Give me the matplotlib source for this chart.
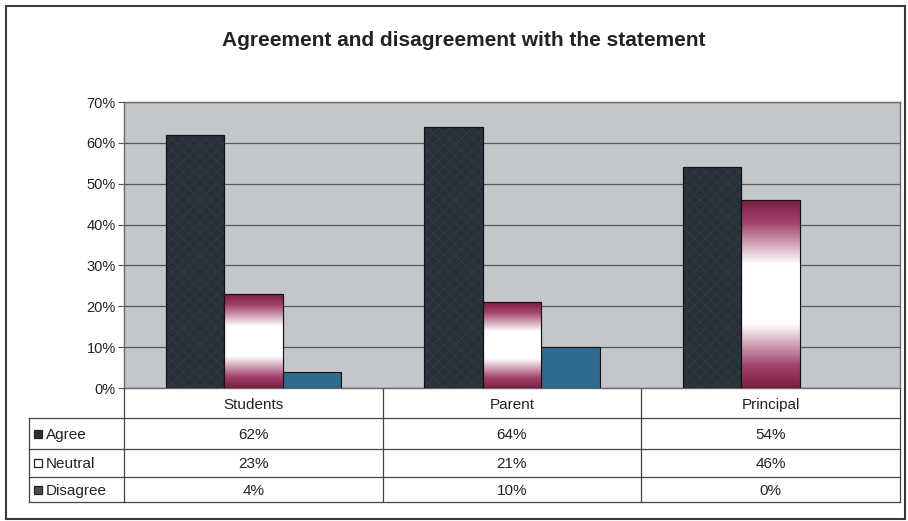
import matplotlib
matplotlib.use("Agg")
import matplotlib.pyplot as plt
import matplotlib.transforms as mtransforms
from matplotlib.colors import LinearSegmentedColormap
from matplotlib.patches import Rectangle
from matplotlib.ticker import PercentFormatter
import numpy as np

plt.rcParams["font.family"] = ["Liberation Sans", "DejaVu Sans"]
plt.rcParams["hatch.linewidth"] = 0.5

# survey shares per respondent group
groups = ["Students", "Parent", "Principal"]
series = ["Agree", "Neutral", "Disagree"]
agree = [0.62, 0.64, 0.54]
neutral = [0.23, 0.21, 0.46]
disagree = [0.04, 0.10, 0.00]
y_ticks = [0.0, 0.1, 0.2, 0.3, 0.4, 0.5, 0.6, 0.7]

AGREE_C = "#283039"
NEUTRAL_C = "#7f2346"
DISAGREE_C = "#2e6b8c"
PLOT_BG = "#c3c7cc"

W, H = 908, 521
fig = plt.figure(figsize=(W / 100, H / 100), dpi=100)


def fx(px):
    return px / W


def fy(py):
    # pixel rows measured from the top edge
    return 1 - py / H


ax = fig.add_axes([fx(124), fy(388), fx(900) - fx(124), fy(102) - fy(388)])
ax.set_facecolor(PLOT_BG)

x = np.arange(len(groups))
w = 0.226
values = [agree, neutral, disagree]

ax.bar(x - w, agree, w, color=AGREE_C, edgecolor="#111111", linewidth=0.8, zorder=3)
# faint checker texture on the dark bars
ax.bar(x - w, agree, w, fill=False, hatch="xxx", edgecolor="#333d49", linewidth=0, zorder=3.2)
ax.bar(x - w, agree, w, fill=False, edgecolor="#111111", linewidth=0.8, zorder=3.4)

neutral_bars = ax.bar(x, neutral, w, color=NEUTRAL_C, edgecolor="#111111", linewidth=0.8, zorder=3)
ax.bar(x + w, disagree, w, color=DISAGREE_C, edgecolor="#111111", linewidth=0.8, zorder=3)

# tube shading: maroon at top and bottom, white in the middle
tube = LinearSegmentedColormap.from_list(
    "tube",
    [(0.0, "#7a1f42"), (0.12, "#a3436c"), (0.34, "#ffffff"),
     (0.66, "#ffffff"), (0.88, "#a3436c"), (1.0, "#7a1f42")],
)
grad = np.linspace(0, 1, 256).reshape(-1, 1)
for rect in neutral_bars:
    h = rect.get_height()
    if h <= 0:
        continue
    x0 = rect.get_x()
    ax.imshow(grad, extent=[x0, x0 + rect.get_width(), 0, h], origin="lower",
              aspect="auto", cmap=tube, zorder=3.1, interpolation="bilinear")
    ax.add_patch(Rectangle((x0, 0), rect.get_width(), h, fill=False,
                           edgecolor="#111111", linewidth=0.8, zorder=3.4))

ax.set_xlim(-0.5, len(groups) - 0.5)
ax.set_ylim(0, 0.7)
ax.set_yticks(y_ticks)
ax.yaxis.set_major_formatter(PercentFormatter(1, decimals=0))
ax.set_xticks([])
ax.grid(axis="y", color="#565656", linewidth=0.9, zorder=1)
ax.set_axisbelow(True)
ax.tick_params(axis="y", direction="out", length=4, width=0.8, color="#555555",
               labelsize=10.5, labelcolor="#222222", pad=2)
for side in ["left", "bottom", "top", "right"]:
    ax.spines[side].set_color("#6a6a6a")
    ax.spines[side].set_linewidth(1.0)

fig.text(fx(464), fy(38), "Agreement and disagreement with the statement",
         ha="center", va="center_baseline", fontsize=15, fontweight="bold", color="#222222")

# data table under the axis, columns follow the category boundaries
tb = mtransforms.blended_transform_factory(ax.transData, fig.transFigure)
row_lines = [389, 418, 449, 477, 502]
bounds = np.arange(len(groups) + 1) - 0.5
line_kw = dict(color="#444444", linewidth=0.9)

for ry in row_lines[1:]:
    fig.add_artist(plt.Line2D([fx(29), fx(124)], [fy(ry)] * 2, transform=fig.transFigure, **line_kw))
    fig.add_artist(plt.Line2D([bounds[0], bounds[-1]], [fy(ry)] * 2, transform=tb, **line_kw))
fig.add_artist(plt.Line2D([fx(29), fx(29)], [fy(row_lines[1]), fy(row_lines[-1])],
                          transform=fig.transFigure, **line_kw))
for b in bounds:
    fig.add_artist(plt.Line2D([b, b], [fy(row_lines[0]), fy(row_lines[-1])], transform=tb, **line_kw))

txt = dict(fontsize=11, color="#222222", va="center_baseline")
mid = [(row_lines[i] + row_lines[i + 1]) / 2 for i in range(len(row_lines) - 1)]
for i, g in enumerate(groups):
    fig.text(x[i], fy(mid[0]), g, transform=tb, ha="center", **txt)

key_colors = [AGREE_C, "#ffffff", "#444c55"]
for r, (name, vals) in enumerate(zip(series, values)):
    yc = fy(mid[r + 1])
    fig.add_artist(Rectangle((fx(34), yc - 4 / H), 8 / W, 8 / H, transform=fig.transFigure,
                             facecolor=key_colors[r], edgecolor="#222222", linewidth=0.9))
    fig.text(fx(46), yc, name, ha="left", **txt)
    for i, v in enumerate(vals):
        fig.text(x[i], yc, f"{v:.0%}", transform=tb, ha="center", **txt)

# chart frame
fig.add_artist(Rectangle((fx(6), fy(519)), fx(905) - fx(6), fy(6) - fy(519),
                         transform=fig.transFigure, fill=False, edgecolor="#3a3a3a", linewidth=1.5))

fig.savefig("out.png", dpi=100)
